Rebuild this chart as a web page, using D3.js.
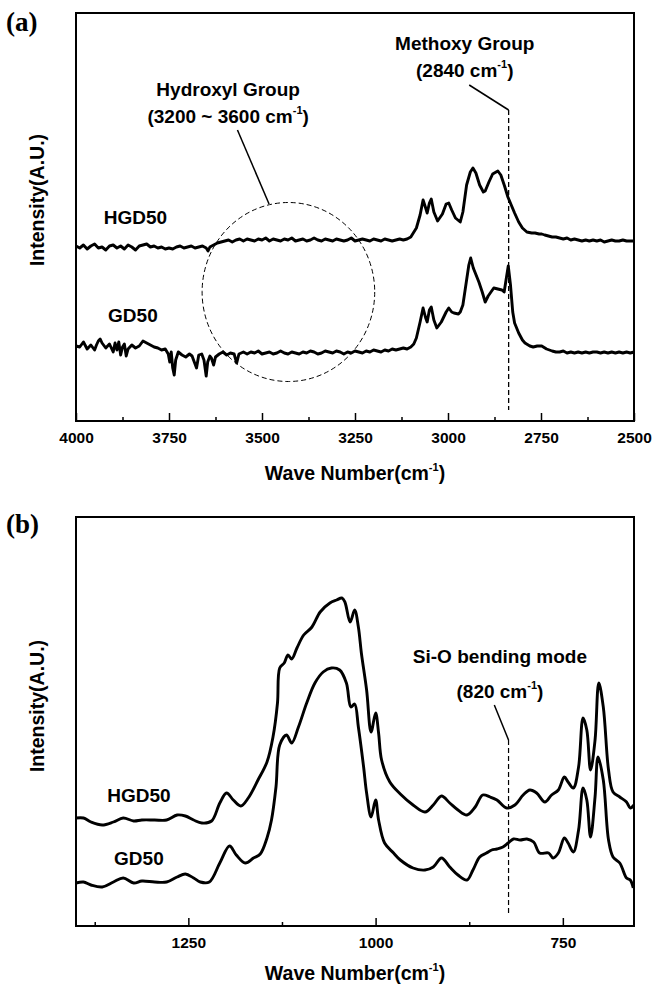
<!DOCTYPE html>
<html><head><meta charset="utf-8">
<script src="https://cdn.jsdelivr.net/npm/d3@7"></script>
<style>
body{margin:0;background:#fff;}
svg text{font-family:"Liberation Sans",Arial,sans-serif;font-weight:bold;fill:#000;}
</style>
</head><body>
<svg id="c" width="652" height="987"></svg>
<script>
// ---------- Panel (a): wavenumber (cm-1), intensity (A.U.) ----------
const aTicks = [4000, 3750, 3500, 3250, 3000, 2750, 2500];
const aMinor = [3875, 3625, 3375, 3125, 2875, 2625];
const aHGD50 = [
[4000,175],[3990,173],[3980,176],[3970,172],[3960,175],[3950,177],[3940,173],[3930,174],[3920,171],[3910,175],
[3900,176],[3890,173],[3880,175],[3870,172],[3860,176],[3850,174],[3840,171],[3830,175],[3820,176],[3810,177],
[3800,174],[3790,175],[3780,173],[3770,174],[3760,172],[3750,173],[3740,172],[3730,174],[3720,175],[3710,173],
[3700,174],[3690,175],[3680,173],[3670,174],[3660,175],[3650,173],[3645,170],[3640,174],[3630,176],[3620,178],
[3610,179],[3600,180],[3590,181],[3580,179],[3570,181],[3560,182],[3550,180],[3540,182],[3530,181],[3520,180],
[3510,182],[3500,181],[3490,183],[3480,180],[3470,182],[3460,181],[3450,180],[3440,182],[3430,181],[3420,183],
[3410,180],[3400,181],[3390,182],[3380,180],[3370,181],[3360,183],[3350,181],[3340,180],[3330,182],[3320,181],
[3310,180],[3300,182],[3290,181],[3280,180],[3270,181],[3260,183],[3250,180],[3240,181],[3230,182],[3220,181],
[3210,180],[3200,182],[3190,181],[3180,180],[3170,182],[3160,181],[3150,180],[3140,181],[3130,182],[3120,181],
[3110,182],[3100,184],[3095,187],[3085,193],[3075,206],[3067,221],[3060,213],[3056,208],[3050,218],[3045,222],
[3038,209],[3028,200],[3015,207],[3005,217],[2998,218],[2990,211],[2980,203],[2967,199],[2960,209],[2950,236],
[2940,249],[2933,253],[2925,248],[2915,236],[2905,229],[2900,230],[2890,239],[2880,247],[2866,250],[2858,246],
[2848,235],[2839,224],[2830,216],[2821,208],[2810,199],[2800,193],[2788,189],[2775,188],[2766,188],[2755,187],
[2748,187],[2740,186],[2730,185],[2720,184],[2710,184],[2700,183],[2690,182],[2680,183],[2670,181],[2660,182],
[2650,181],[2640,180],[2630,181],[2620,180],[2610,181],[2600,180],[2590,181],[2580,179],[2570,180],[2560,181],
[2550,180],[2540,180],[2530,181],[2520,180],[2510,180],[2500,180]
];
const aGD50 = [
[4000,75],[3990,74],[3980,79],[3970,72],[3960,76],[3950,71],[3945,76],[3940,80],[3935,82],[3930,78],
[3920,73],[3910,77],[3900,69],[3895,78],[3890,71],[3885,79],[3880,66],[3875,74],[3870,77],[3865,65],
[3860,72],[3850,76],[3840,73],[3830,75],[3820,80],[3810,78],[3800,76],[3790,74],[3780,73],[3770,71],
[3760,72],[3752,67],[3748,59],[3744,69],[3740,53],[3736,46],[3732,61],[3725,69],[3715,66],[3705,64],
[3695,67],[3688,65],[3682,59],[3676,53],[3670,66],[3662,67],[3656,61],[3650,45],[3646,59],[3640,65],
[3636,63],[3630,56],[3625,64],[3615,67],[3605,69],[3595,66],[3585,68],[3575,67],[3568,58],[3562,67],
[3550,69],[3540,67],[3530,69],[3520,68],[3510,70],[3500,67],[3490,68],[3480,69],[3470,67],[3460,68],
[3450,70],[3440,68],[3430,67],[3420,69],[3410,68],[3400,67],[3390,69],[3380,68],[3370,70],[3360,69],
[3350,67],[3340,68],[3330,70],[3320,69],[3310,68],[3300,70],[3290,69],[3280,67],[3270,69],[3260,68],
[3250,70],[3240,69],[3230,68],[3220,70],[3210,69],[3200,71],[3190,70],[3180,69],[3170,71],[3160,70],
[3150,72],[3140,71],[3130,72],[3120,73],[3110,72],[3100,74],[3092,77],[3085,83],[3075,99],[3067,113],
[3060,103],[3056,99],[3050,111],[3045,114],[3038,101],[3030,93],[3018,99],[3005,109],[2998,113],[2990,109],
[2984,108],[2972,107],[2967,109],[2960,116],[2950,141],[2944,156],[2939,163],[2932,153],[2917,139],[2908,129],
[2900,119],[2892,125],[2877,133],[2866,132],[2855,131],[2849,129],[2844,141],[2838,155],[2832,136],[2826,109],
[2821,98],[2810,88],[2800,81],[2793,78],[2780,75],[2771,74],[2760,75],[2748,75],[2735,72],[2720,70],
[2710,69],[2700,69],[2690,70],[2680,68],[2670,69],[2660,68],[2650,69],[2640,68],[2630,69],[2620,68],
[2610,69],[2600,69],[2590,68],[2580,69],[2570,68],[2560,69],[2550,68],[2540,69],[2530,68],[2520,69],
[2510,68],[2500,69]
];

// ---------- Panel (b) ----------
const bTicks = [1250, 1000, 750];
const bMinor = [1375, 1125, 875];
const bHGD50 = [
[1400,108],[1390,108],[1380,104],[1365,101],[1350,104],[1337,108],[1323,105],[1312,106],[1295,106],[1279,106],
[1265,111],[1254,110],[1243,106],[1232,103],[1219,105],[1208,123],[1199,133],[1190,126],[1180,120],[1170,128],
[1157,146],[1145,164],[1137,189],[1131,223],[1128,258],[1122,263],[1117,271],[1112,267],[1105,278],[1096,291],
[1085,299],[1074,314],[1061,323],[1052,326],[1045,328],[1041,324],[1034,304],[1028,316],[1023,299],[1019,273],
[1012,236],[1006,194],[1000,213],[996,193],[992,166],[981,144],[967,132],[950,121],[934,114],[923,121],
[912,130],[901,123],[890,116],[878,111],[867,119],[857,131],[847,129],[838,126],[825,118],[814,121],
[803,131],[794,136],[785,133],[774,124],[765,131],[756,136],[748,149],[743,144],[736,138],[729,159],
[723,208],[718,196],[713,156],[707,186],[702,243],[696,219],[689,156],[683,134],[674,129],[665,124],
[660,118],[655,121]
];
const bGD50 = [
[1400,43],[1390,44],[1380,41],[1365,39],[1350,44],[1337,48],[1323,43],[1312,45],[1295,44],[1279,44],
[1265,49],[1254,52],[1243,48],[1234,44],[1222,44],[1208,63],[1195,80],[1186,71],[1174,63],[1163,68],
[1154,72],[1145,88],[1139,106],[1133,139],[1128,181],[1119,191],[1112,183],[1103,199],[1092,223],[1081,243],
[1070,254],[1059,258],[1048,256],[1039,243],[1033,219],[1028,222],[1023,199],[1016,159],[1012,133],[1006,109],
[1000,126],[996,106],[988,83],[976,73],[967,66],[950,58],[934,56],[923,59],[912,68],[901,59],
[890,51],[878,46],[870,56],[861,69],[852,73],[845,76],[838,77],[830,79],[823,83],[816,87],
[807,86],[798,87],[789,84],[781,73],[769,73],[763,68],[756,73],[748,88],[743,83],[736,74],
[729,96],[723,138],[718,126],[713,89],[707,129],[703,169],[696,146],[689,86],[683,69],[674,63],
[665,48],[660,46],[656,38]
];

const svg = d3.select("#c");
const L = 76, R = 634;

function panel(cfg){
  const x = d3.scaleLinear().domain(cfg.xDomain).range([L, R]);
  const y = d3.scaleLinear().domain([0, cfg.bottom - cfg.top]).range([cfg.bottom, cfg.top]);
  const g = svg.append("g");
  const line = d3.line().x(d => x(d[0])).y(d => y(d[1])).curve(cfg.curve);
  cfg.series.forEach(s => {
    g.append("path").datum(s).attr("d", line).attr("fill","none")
      .attr("stroke","#000").attr("stroke-width",2.9).attr("stroke-linejoin","round");
  });
  const ax = g.append("g").attr("transform",`translate(0,${cfg.bottom})`)
    .call(d3.axisBottom(x).tickValues(cfg.ticks).tickSize(-8).tickPadding(11).tickFormat(d3.format("d")));
  ax.select(".domain").remove();
  ax.selectAll("line").attr("stroke","#000").attr("stroke-width",1.5);
  ax.selectAll("text").style("font-size","15.5px").style("font-family","'Liberation Sans',Arial,sans-serif").style("font-weight","bold");
  const mx = g.append("g").attr("transform",`translate(0,${cfg.bottom})`)
    .call(d3.axisBottom(x).tickValues(cfg.minor).tickSize(-4).tickFormat(""));
  mx.select(".domain").remove();
  mx.selectAll("line").attr("stroke","#000").attr("stroke-width",1.5);
  g.append("rect").attr("x",L).attr("y",cfg.top).attr("width",R-L).attr("height",cfg.bottom-cfg.top)
    .attr("fill","none").attr("stroke","#000").attr("stroke-width",2);
  const xt = g.append("text").attr("x",(L+R)/2).attr("y",cfg.xTitleY).attr("text-anchor","middle").style("font-size","19.5px");
  xt.append("tspan").text("Wave Number(cm");
  xt.append("tspan").text("-1").style("font-size","11px").attr("dy",-9);
  xt.append("tspan").text(")").attr("dy",9);
  g.append("text").attr("transform",`translate(44,${cfg.yTitleY}) rotate(-90)`).attr("text-anchor","middle")
    .style("font-size","19.5px").text("Intensity(A.U.)");
  g.append("text").attr("x",6).attr("y",cfg.letterY).text(cfg.letter)
    .style("font-family","'Liberation Serif','Times New Roman',serif").style("font-size","27px");
  return {g, x, y};
}

function supText(g, x, y, pre, sup, post, size){
  const t = g.append("text").attr("x",x).attr("y",y).attr("text-anchor","middle").style("font-size",size+"px");
  t.append("tspan").text(pre);
  t.append("tspan").text(sup).style("font-size","11px").attr("dy",-9);
  t.append("tspan").text(post).attr("dy",9);
  return t;
}

// Panel (a)
const A = panel({xDomain:[4000,2500], top:13, bottom:421, ticks:aTicks, minor:aMinor, curve:d3.curveLinear,
  series:[aHGD50, aGD50], xTitleY:480, yTitleY:200, letter:"(a)", letterY:31});
{
  const {g,x,y} = A;
  g.append("line").attr("x1",x(2837)).attr("x2",x(2837)).attr("y1",y(311)).attr("y2",y(11))
    .attr("stroke","#000").attr("stroke-width",1.3).attr("stroke-dasharray","5,3");
  g.append("line").attr("x1",x(2943)).attr("y1",y(336)).attr("x2",x(2837)).attr("y2",y(311))
    .attr("stroke","#000").attr("stroke-width",1.5);
  g.append("text").attr("x",x(2955)).attr("y",y(371)).attr("text-anchor","middle").style("font-size","19px").text("Methoxy Group");
  supText(g, x(2955), y(344), "(2840 cm", "-1", ")", 19);
  g.append("text").attr("x",x(3591)).attr("y",y(325)).attr("text-anchor","middle").style("font-size","19px").text("Hydroxyl Group");
  supText(g, x(3591), y(298), "(3200 ~ 3600 cm", "-1", ")", 19);
  g.append("line").attr("x1",x(3566)).attr("y1",y(291)).attr("x2",x(3481)).attr("y2",y(217))
    .attr("stroke","#000").attr("stroke-width",1.5);
  const cx = x(3429), cy = y(129);
  g.append("ellipse").attr("cx",cx).attr("cy",cy).attr("rx",Math.abs(x(3429+232)-cx)).attr("ry",Math.abs(y(129+89.5)-cy))
    .attr("fill","none").attr("stroke","#000").attr("stroke-width",1).attr("stroke-dasharray","5,3");
  g.append("text").attr("x",x(3840)).attr("y",y(197)).attr("text-anchor","middle").style("font-size","19px").text("HGD50");
  g.append("text").attr("x",x(3847)).attr("y",y(99)).attr("text-anchor","middle").style("font-size","19px").text("GD50");
}

// Panel (b)
const B = panel({xDomain:[1400,655], top:517, bottom:926, ticks:bTicks, minor:bMinor, curve:d3.curveCatmullRom.alpha(0.5),
  series:[bHGD50, bGD50], xTitleY:980, yTitleY:706, letter:"(b)", letterY:533});
{
  const {g,x,y} = B;
  g.append("line").attr("x1",x(822.5)).attr("x2",x(822.5)).attr("y1",y(186)).attr("y2",y(13))
    .attr("stroke","#000").attr("stroke-width",1.2).attr("stroke-dasharray","5,3");
  g.append("line").attr("x1",x(841.5)).attr("y1",y(221)).attr("x2",x(822.5)).attr("y2",y(186))
    .attr("stroke","#000").attr("stroke-width",1.5);
  g.append("text").attr("x",x(834)).attr("y",y(263)).attr("text-anchor","middle").style("font-size","19px").text("Si-O bending mode");
  supText(g, x(834), y(228), "(820 cm", "-1", ")", 19);
  g.append("text").attr("x",x(1316)).attr("y",y(124)).attr("text-anchor","middle").style("font-size","19px").text("HGD50");
  g.append("text").attr("x",x(1316)).attr("y",y(61)).attr("text-anchor","middle").style("font-size","19px").text("GD50");
}
</script>
</body></html>
